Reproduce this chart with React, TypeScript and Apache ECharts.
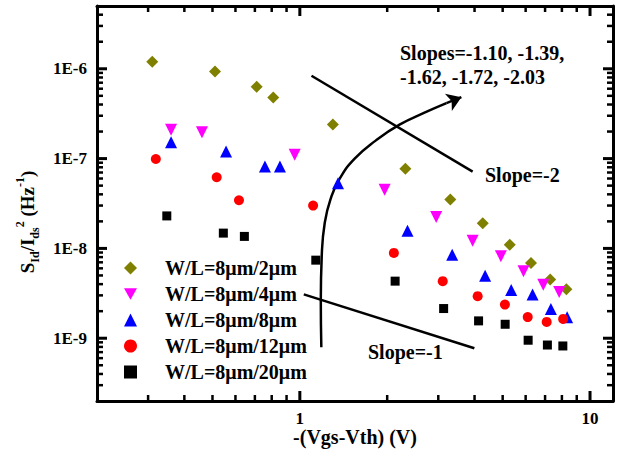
import React, { useEffect, useRef } from 'react';
import * as echarts from 'echarts';

// ---- data ----
const seriesNames = ['W/L=8μm/2μm', 'W/L=8μm/4μm', 'W/L=8μm/8μm', 'W/L=8μm/12μm', 'W/L=8μm/20μm'];

const vgs2um = [0.31, 0.51, 0.71, 0.81, 1.3, 2.31, 3.3, 4.27, 5.29, 6.26, 7.29, 8.29];
const noise2um = [1.2e-6, 9.3e-7, 6.3e-7, 4.8e-7, 2.4e-7, 7.7e-8, 3.5e-8, 1.9e-8, 1.1e-8, 6.9e-9, 4.5e-9, 3.5e-9];

const vgs4um = [0.36, 0.46, 0.96, 1.96, 2.95, 3.94, 4.93, 5.9, 6.9, 7.83];
const noise4um = [2.1e-7, 1.96e-7, 1.1e-7, 4.5e-8, 2.24e-8, 1.22e-8, 8.2e-9, 5.55e-9, 3.95e-9, 3.27e-9];

const vgs8um = [0.36, 0.557, 0.758, 0.854, 1.354, 2.35, 3.35, 4.35, 5.35, 6.34, 7.33, 8.34];
const noise8um = [1.52e-7, 1.2e-7, 8.15e-8, 8.15e-8, 5.3e-8, 1.57e-8, 8.5e-9, 4.97e-9, 3.44e-9, 3.06e-9, 2.12e-9, 1.71e-9];

const vgs12um = [0.319, 0.517, 0.617, 1.111, 2.109, 3.108, 4.1, 5.09, 6.1, 7.09, 8.08];
const noise12um = [9.9e-8, 6.2e-8, 3.44e-8, 3.0e-8, 8.9e-9, 4.32e-9, 2.94e-9, 2.37e-9, 1.72e-9, 1.52e-9, 1.64e-9];

const vgs20um = [0.348, 0.545, 0.644, 1.135, 2.13, 3.13, 4.13, 5.1, 6.12, 7.13, 8.06];
const noise20um = [2.3e-8, 1.48e-8, 1.36e-8, 7.4e-9, 4.32e-9, 2.14e-9, 1.56e-9, 1.43e-9, 9.5e-10, 8.4e-10, 8.2e-10];

// annotation guide lines (data coordinates)
const slope2LineX = [1.097, 3.94];
const slope2LineY = [8.36e-7, 7.17e-8];
const slope1LineX = [1.032, 3.994];
const slope1LineY = [3.08e-9, 7.74e-10];
const curveX = [1.186, 1.181, 1.19, 1.219, 1.278, 1.372, 1.545, 1.825, 2.206, 2.689, 3.2];
const curveY = [7.94e-10, 2.64e-9, 8.36e-9, 1.945e-8, 3.59e-8, 5.99e-8, 1.0e-7, 1.585e-7, 2.386e-7, 3.24e-7, 4.14e-7];
const arrowTip = [3.603, 4.83e-7];

// axis ranges and ticks
const xRange = [0.2, 12];
const yRange = [2e-10, 5e-6];
const xMajorTicks = [1, 10];
const yMajorTicks = [1e-9, 1e-8, 1e-7, 1e-6];
const xMinorTicks = [0.3, 0.4, 0.5, 0.6, 0.7, 0.8, 0.9, 2, 3, 4, 5, 6, 7, 8, 9];
const yMinorTicks: number[] = [
  3e-10, 4e-10, 5e-10, 6e-10, 7e-10, 8e-10, 9e-10,
  2e-9, 3e-9, 4e-9, 5e-9, 6e-9, 7e-9, 8e-9, 9e-9,
  2e-8, 3e-8, 4e-8, 5e-8, 6e-8, 7e-8, 8e-8, 9e-8,
  2e-7, 3e-7, 4e-7, 5e-7, 6e-7, 7e-7, 8e-7, 9e-7,
  2e-6, 3e-6, 4e-6,
];

const FONT = 'Liberation Serif';
const zip = (xs: number[], ys: number[]) => xs.map((x, i) => [x, ys[i]]);

const MAJOR_LEN = 10;
const MINOR_LEN = 6;

const axisCommon = (range: number[], position: string) => ({
  type: 'log',
  logBase: 10,
  min: range[0],
  max: range[1],
  position,
  splitLine: { show: false },
  axisLine: { show: true, onZero: false, lineStyle: { color: '#000', width: 3 } },
  axisTick: { show: false },
});

const tickLine = (x1: number, y1: number, x2: number, y2: number, w: number) => ({
  type: 'line',
  z: 50,
  shape: { x1, y1, x2, y2 },
  style: { stroke: '#000', lineWidth: w },
});

const scatter = (name: string, xs: number[], ys: number[], symbol: string, size: number, color: string) => ({
  name,
  type: 'scatter',
  symbol,
  symbolSize: size,
  itemStyle: { color, opacity: 1 },
  data: zip(xs, ys),
  z: 4,
});

const guide = (xs: number[], ys: number[], extra: any = {}) => ({
  type: 'line',
  data: zip(xs, ys),
  symbol: 'none',
  showSymbol: false,
  silent: true,
  lineStyle: { color: '#000', width: 2.5 },
  z: 3,
  ...extra,
});

const textStyleBase = {
  fontFamily: FONT,
  fontWeight: 'bold',
  fontSize: 20,
  fill: '#000',
  align: 'left',
  verticalAlign: 'middle',
  textAlign: 'left',
  textVerticalAlign: 'middle',
};

const baseGraphic: any[] = [
  {
    type: 'text',
    x: 27,
    y: 222,
    rotation: Math.PI / 2,
    style: {
      text: '{a|S}{b|Id}{a|/I}{b|ds}{c|2}{a| (Hz}{c|-1}{a|)}',
      align: 'center',
      verticalAlign: 'middle',
      textAlign: 'center',
      textVerticalAlign: 'middle',
      fill: '#000',
      rich: {
        a: { fontFamily: FONT, fontWeight: 'bold', fontSize: 19, lineHeight: 27, color: '#000' },
        b: { fontFamily: FONT, fontWeight: 'bold', fontSize: 12, lineHeight: 13, verticalAlign: 'bottom', color: '#000' },
        c: { fontFamily: FONT, fontWeight: 'bold', fontSize: 12, lineHeight: 13, verticalAlign: 'top', color: '#000' },
      },
    },
  },
  {
    type: 'text',
    x: 355,
    y: 437,
    style: { ...textStyleBase, text: '-(Vgs-Vth) (V)', align: 'center', textAlign: 'center' },
  },
  { type: 'text', x: 400, y: 53, style: { ...textStyleBase, text: 'Slopes=-1.10, -1.39,' } },
  { type: 'text', x: 400, y: 77, style: { ...textStyleBase, text: '-1.62, -1.72, -2.03' } },
  { type: 'text', x: 485, y: 175, style: { ...textStyleBase, text: 'Slope=-2' } },
  { type: 'text', x: 368, y: 352, style: { ...textStyleBase, text: 'Slope=-1' } },
];

export default function App() {
  const ref = useRef<HTMLDivElement>(null);
  useEffect(() => {
    document.body.style.margin = '0';
    const chart = echarts.init(ref.current!, null, { renderer: 'svg' });
    const option: any = {
      animation: false,
      grid: { left: 97, right: 21, top: 6, bottom: 53 },
      xAxis: [
        {
          ...axisCommon(xRange, 'bottom'),
          axisLabel: {
            show: true,
            showMinLabel: false,
            showMaxLabel: false,
            margin: 9,
            color: '#000',
            fontFamily: FONT,
            fontWeight: 'bold',
            fontSize: 17,
            formatter: (v: number) => String(Math.round(v * 100) / 100),
          },
        },
        { ...axisCommon(xRange, 'top'), axisLabel: { show: false } },
      ],
      yAxis: [
        {
          ...axisCommon(yRange, 'left'),
          axisLabel: {
            show: true,
            showMinLabel: false,
            showMaxLabel: false,
            margin: 10,
            color: '#000',
            fontFamily: FONT,
            fontWeight: 'bold',
            fontSize: 17,
            formatter: (v: number) => '1E' + Math.round(Math.log10(v)),
          },
        },
        { ...axisCommon(yRange, 'right'), axisLabel: { show: false } },
      ],
      legend: {
        data: seriesNames,
        orient: 'vertical',
        left: 119,
        top: 253,
        itemWidth: 13,
        itemHeight: 13,
        itemGap: 6,
        selectedMode: false,
        textStyle: {
          color: '#000',
          fontFamily: FONT,
          fontWeight: 'bold',
          fontSize: 20,
          lineHeight: 20,
          padding: [0, 0, 0, 23],
        },
      },
      series: [
        scatter(seriesNames[0], vgs2um, noise2um, 'diamond', 12, '#808000'),
        scatter(seriesNames[1], vgs4um, noise4um, 'path://M0,0 L2,0 L1,1.75 Z', 12, '#ff00ff'),
        scatter(seriesNames[2], vgs8um, noise8um, 'triangle', 12, '#0000ff'),
        scatter(seriesNames[3], vgs12um, noise12um, 'circle', 10, '#ff0000'),
        scatter(seriesNames[4], vgs20um, noise20um, 'rect', 9, '#000000'),
        guide(slope2LineX, slope2LineY),
        guide(slope1LineX, slope1LineY),
        guide(curveX, curveY, {
          smooth: 0.5,
          markLine: {
            silent: true,
            symbol: ['none', 'arrow'],
            symbolSize: 14,
            label: { show: false },
            lineStyle: { color: '#000', width: 2.5, type: 'solid' },
            data: [[{ coord: [curveX[curveX.length - 1], curveY[curveY.length - 1]] }, { coord: arrowTip }]],
          },
        }),
      ],
    };
    try {
      chart.setOption(option);
    } catch (e) {
      // continue so that the frame ticks and texts are still added
    }

    // major and minor ticks on all four sides, positioned through the axes' own scales
    const ticks: any[] = [];
    try {
      const finder = { xAxisIndex: 0, yAxisIndex: 0 } as any;
      const toPx = (x: number, y: number) => chart.convertToPixel(finder, [x, y]) as number[];
      const c0 = toPx(xRange[0], yRange[0]);
      const c1 = toPx(xRange[1], yRange[1]);
      const xl = c0[0], yb = c0[1], xr = c1[0], yt = c1[1];
      const addX = (v: number, len: number, w: number) => {
        const p = toPx(v, 1e-8);
        ticks.push(tickLine(p[0], yb, p[0], yb - len, w));
        ticks.push(tickLine(p[0], yt, p[0], yt + len, w));
      };
      const addY = (v: number, len: number, w: number) => {
        const p = toPx(1, v);
        ticks.push(tickLine(xl, p[1], xl + len, p[1], w));
        ticks.push(tickLine(xr, p[1], xr - len, p[1], w));
      };
      xMinorTicks.forEach((v) => addX(v, MINOR_LEN, 2.5));
      xMajorTicks.forEach((v) => addX(v, MAJOR_LEN, 3));
      yMinorTicks.forEach((v) => addY(v, MINOR_LEN, 2.5));
      yMajorTicks.forEach((v) => addY(v, MAJOR_LEN, 3));
    } catch (e) {
      // keep chart without ticks
    }
    chart.setOption({ graphic: [...baseGraphic, ...ticks] });

    return () => chart.dispose();
  }, []);
  return <div ref={ref} style={{ width: 634, height: 454 }} />;
}
